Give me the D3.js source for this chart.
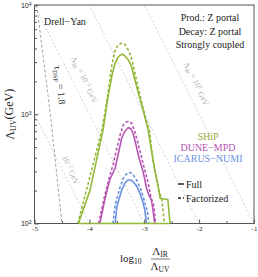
<!DOCTYPE html>
<html>
<head>
<meta charset="utf-8">
<script src="https://cdn.jsdelivr.net/npm/d3@7"></script>
<style>
  body { margin: 0; background: #fff; }
  svg { display: block; font-family: 'Liberation Serif', serif; }
</style>
</head>
<body>
<div id="chart"></div>
<script>
// SHiP
const shipFullX = [-4.20, -3.99, -3.75, -3.66, -3.58, -3.53, -3.47, -3.41, -3.35, -3.29, -3.23, -3.17, -3.09, -3.02, -2.93, -2.87, -2.81, -2.75, -2.71, -2.57, -2.53]
const shipFullY = [100, 200, 720, 1450, 2370, 2940, 3370, 3560, 3410, 3140, 2720, 2060, 1450, 1090, 720, 470, 310, 225, 170, 166, 100]
const shipFactX = [-4.21, -3.77, -3.66, -3.59, -3.54, -3.48, -3.42, -3.35, -3.30, -3.25, -3.21, -3.15, -3.08, -2.99, -2.90, -2.84, -2.75, -2.68, -2.65, -2.63]
const shipFactY = [100, 720, 1560, 2830, 3720, 4300, 4460, 4350, 3950, 3480, 2940, 2150, 1500, 984, 689, 381, 216, 164, 120, 100]
// DUNE-MPD
const duneFullX = [-3.81, -3.72, -3.63, -3.53, -3.47, -3.41, -3.35, -3.29, -3.24, -3.20, -3.15, -3.10, -3.02, -2.95, -2.90, -2.87, -2.84, -2.81]
const duneFullY = [100, 164, 250, 322, 442, 606, 703, 757, 733, 659, 523, 406, 296, 203, 175, 164, 133, 100]
const duneFactX = [-3.83, -3.74, -3.65, -3.57, -3.50, -3.43, -3.38, -3.33, -3.29, -3.23, -3.18, -3.12, -3.06, -2.99, -2.92, -2.88, -2.83, -2.79]
const duneFactY = [100, 164, 250, 343, 491, 673, 798, 849, 859, 832, 718, 557, 424, 309, 225, 175, 148, 100]
// ICARUS-NUMI
const icarusFullX = [-3.53, -3.50, -3.41, -3.35, -3.30, -3.25, -3.20, -3.14, -3.08, -3.02, -2.99, -2.96]
const icarusFullY = [100, 142, 203, 235, 250, 250, 240, 221, 190, 154, 133, 100]
const icarusFactX = [-3.57, -3.53, -3.44, -3.37, -3.31, -3.25, -3.20, -3.13, -3.06, -2.99, -2.94, -2.92]
const icarusFactY = [100, 148, 216, 267, 290, 292, 278, 245, 203, 157, 127, 100]

// tau_DSP = 1.8 line
const tauX = [-4.96, -4.71, -4.50]
const tauY = [10000, 1000, 100]

// log10 of Lambda_IR (GeV) for the light diagonal lines
const irLevels = [-2, -1, 0, 1]

const xTicks = [-5, -4, -3, -2, -1]
const xMinor = [-4.5, -3.5, -2.5, -1.5]
const yTicks = [100, 1000, 10000]

const width = 258
const height = 277
const margin = { top: 5, right: 4, bottom: 53.5, left: 34.5 }

const green = '#93b83a'
const magenta = '#b656b4'
const blue = '#6b92e2'

const svg = d3.select('#chart').append('svg')
  .attr('width', width)
  .attr('height', height)

const x = d3.scaleLinear().domain([-5, -1]).range([margin.left, width - margin.right])
const y = d3.scaleLog().domain([100, 10000]).range([height - margin.bottom, margin.top])

const defs = svg.append('defs')
defs.append('clipPath').attr('id', 'plot')
  .append('rect')
  .attr('x', x(-5)).attr('y', y(10000))
  .attr('width', x(-1) - x(-5)).attr('height', y(100) - y(10000))

const plot = svg.append('g').attr('clip-path', 'url(#plot)')

const line = d3.line().x(d => x(d[0])).y(d => y(d[1]))
const zip = (xs, ys) => xs.map((v, i) => [v, ys[i]])

// light Lambda_IR = const lines
irLevels.forEach(l => {
  plot.append('path')
    .attr('d', line([[-6, Math.pow(10, l + 6)], [0, Math.pow(10, l)]]))
    .attr('fill', 'none')
    .attr('stroke', '#c8c8c8')
    .attr('stroke-width', 0.8)
    .attr('stroke-dasharray', '2,2')
})

// tau line
plot.append('path')
  .attr('d', line(zip(tauX, tauY)))
  .attr('fill', 'none')
  .attr('stroke', '#9a9a9a')
  .attr('stroke-width', 0.9)
  .attr('stroke-dasharray', '3,2')

const curves = [
  [icarusFactX, icarusFactY, blue, true],
  [icarusFullX, icarusFullY, blue, false],
  [duneFactX, duneFactY, magenta, true],
  [duneFullX, duneFullY, magenta, false],
  [shipFactX, shipFactY, green, true],
  [shipFullX, shipFullY, green, false]
]

curves.forEach(([xs, ys, c, dashed]) => {
  plot.append('path')
    .attr('d', line(zip(xs, ys)))
    .attr('fill', 'none')
    .attr('stroke', c)
    .attr('stroke-width', 1.6)
    .attr('stroke-linejoin', 'round')
    .attr('stroke-dasharray', dashed ? '3,2' : null)
})

// frame
svg.append('rect')
  .attr('x', x(-5)).attr('y', y(10000))
  .attr('width', x(-1) - x(-5)).attr('height', y(100) - y(10000))
  .attr('fill', 'none')
  .attr('stroke', '#555')
  .attr('stroke-width', 1)

// SHiP closes along the bottom edge
svg.append('path')
  .attr('d', line([[shipFullX[0], 100], [shipFullX[shipFullX.length - 1], 100]]))
  .attr('stroke', green)
  .attr('stroke-width', 1.6)

// axes
const xAxis = svg.append('g')
  .attr('transform', `translate(0,${y(100)})`)
  .call(d3.axisBottom(x).tickValues(xTicks).tickSize(-4).tickPadding(3).tickFormat(d => String(d)))
xAxis.append('g').call(d3.axisBottom(x).tickValues(xMinor).tickSize(-2.5).tickFormat(''))

const yMinor = []
for (let e = 2; e < 4; e++) for (let k = 2; k < 10; k++) yMinor.push(k * Math.pow(10, e))

const yAxis = svg.append('g')
  .attr('transform', `translate(${x(-5)},0)`)
  .call(d3.axisLeft(y).tickValues(yTicks).tickSize(-4).tickPadding(3).tickFormat(''))
yAxis.append('g').call(d3.axisLeft(y).tickValues(yMinor).tickSize(-2.5).tickFormat(''))

svg.selectAll('.domain').remove()
svg.selectAll('.tick line').attr('stroke', '#555')
xAxis.selectAll('text').attr('font-size', 7).attr('fill', '#222').style('font-family', 'Liberation Serif')

yAxis.selectAll('.tick').filter(d => yTicks.includes(d))
  .append('text')
  .attr('x', -3)
  .attr('dy', '0.32em')
  .attr('text-anchor', 'end')
  .attr('font-size', 7)
  .attr('fill', '#222')
  .each(function (d) {
    const t = d3.select(this)
    t.append('tspan').text('10')
    t.append('tspan').attr('dy', '-0.45em').attr('font-size', 5).text(Math.log10(d))
  })

// axis titles
const yl = svg.append('text')
  .attr('transform', `translate(14,${(y(100) + y(10000)) / 2}) rotate(-90)`)
  .attr('text-anchor', 'middle')
  .attr('font-size', 12)
  .attr('fill', '#222')
yl.append('tspan').text('Λ')
yl.append('tspan').attr('font-size', 8).attr('dy', '0.3em').text('UV')
yl.append('tspan').attr('dy', '-0.3em').text('(GeV)')

const xl = svg.append('g').attr('fill', '#222')
const lg = xl.append('text').attr('x', 120).attr('y', 262).attr('font-size', 11)
lg.append('tspan').text('log')
lg.append('tspan').attr('font-size', 7.5).attr('dy', '0.3em').text('10')
const num = xl.append('text').attr('x', 160).attr('y', 255).attr('text-anchor', 'middle').attr('font-size', 11)
num.append('tspan').text('Λ')
num.append('tspan').attr('font-size', 7.5).attr('dy', '0.3em').text('IR')
xl.append('line').attr('x1', 151).attr('x2', 170).attr('y1', 259).attr('y2', 259)
  .attr('stroke', '#222').attr('stroke-width', 0.6)
const den = xl.append('text').attr('x', 160).attr('y', 270).attr('text-anchor', 'middle').attr('font-size', 11)
den.append('tspan').text('Λ')
den.append('tspan').attr('font-size', 7.5).attr('dy', '0.3em').text('UV')

// annotations
svg.append('text').attr('x', 44).attr('y', 25).attr('font-size', 10).attr('fill', '#222').text('Drell−Yan')

const tau = svg.append('text')
  .attr('transform', 'translate(54,66) rotate(84)')
  .attr('font-size', 10).attr('fill', '#333')
tau.append('tspan').text('τ')
tau.append('tspan').attr('font-size', 6.5).attr('dy', '0.3em').text('DSP')
tau.append('tspan').attr('dy', '-0.3em').text(' = 1.8')

const irLabel = (cx, cy, sub, exp) => {
  const t = svg.append('text')
    .attr('transform', `translate(${cx},${cy}) rotate(63.3)`)
    .attr('text-anchor', 'middle')
    .attr('font-size', 8)
    .attr('fill', '#aaa')
  if (sub) {
    t.append('tspan').text('Λ')
    t.append('tspan').attr('font-size', 5.5).attr('dy', '0.3em').text('IR')
    t.append('tspan').attr('dy', '-0.3em').text(' = 10')
  } else {
    t.append('tspan').text('10')
  }
  t.append('tspan').attr('font-size', 5.5).attr('dy', '-0.45em').text(exp)
  t.append('tspan').attr('dy', '0.45em').text(' GeV')
}
irLabel(82, 81, true, '−1')
irLabel(69, 171, false, '−2')
irLabel(194, 85, true, '1')

const info = ['Prod.: Z portal', 'Decay: Z portal', 'Strongly coupled']
info.forEach((s, i) => {
  svg.append('text').attr('x', 210).attr('y', 21 + i * 13.5)
    .attr('text-anchor', 'middle').attr('font-size', 10).attr('fill', '#222').text(s)
})

const names = [['SHiP', '#a3a83a'], ['DUNE−MPD', magenta], ['ICARUS−NUMI', blue]]
names.forEach(([s, c], i) => {
  svg.append('text').attr('x', 208).attr('y', 139.5 + i * 11)
    .attr('text-anchor', 'middle').attr('font-size', 10).attr('fill', c).text(s)
})

const styles = [['Full', null], ['Factorized', '3,2']]
styles.forEach(([s, dash], i) => {
  const yy = 184 + i * 14
  svg.append('line').attr('x1', 178).attr('x2', 184).attr('y1', yy).attr('y2', yy)
    .attr('stroke', '#222').attr('stroke-width', 1.5).attr('stroke-dasharray', dash)
  svg.append('text').attr('x', 186).attr('y', yy + 3.5).attr('font-size', 10).attr('fill', '#222').text(s)
})
</script>
</body>
</html>
